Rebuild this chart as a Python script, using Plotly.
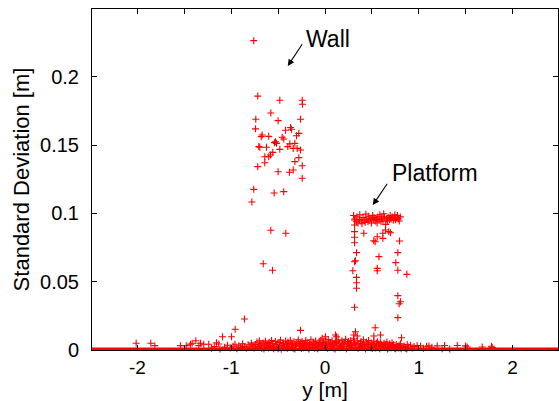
import plotly.graph_objects as go

# ---- data ----
wall_x = [-0.76, -0.717, -0.482, -0.243, -0.24, -0.578, -0.738, -0.5, -0.261, -0.741,
          -0.421, -0.368, -0.357, -0.279, -0.304, -0.67, -0.68, -0.6, -0.457, -0.44,
          -0.528, -0.539, -0.517, -0.322, -0.375, -0.706, -0.695, -0.624, -0.397, -0.339,
          -0.297, -0.261, -0.482, -0.557, -0.581, -0.6, -0.642, -0.279, -0.322, -0.642,
          -0.717, -0.243, -0.339, -0.5, -0.379, -0.243, -0.76, -0.542, -0.44, -0.78,
          -0.578, -0.418, -0.659, -0.56, -0.859, -0.958, -0.261]
wall_y = [0.2266, 0.186, 0.183, 0.183, 0.180, 0.1736, 0.169, 0.168, 0.169, 0.162,
          0.161, 0.163, 0.1617, 0.1587, 0.157, 0.1575, 0.1563, 0.1565, 0.1558, 0.1546,
          0.1526, 0.1519, 0.1514, 0.1514, 0.151, 0.149, 0.1485, 0.1485, 0.149, 0.1477,
          0.1477, 0.1465, 0.147, 0.1448, 0.1429, 0.1416, 0.1416, 0.1409, 0.138, 0.1372,
          0.1343, 0.135, 0.1319, 0.1306, 0.1302, 0.1258, 0.1177, 0.115, 0.116, 0.1084,
          0.0877, 0.0855, 0.0632, 0.0584, 0.0227, 0.0152, 0.0144]

platform_x = [0.305, 0.318, 0.334, 0.341, 0.352, 0.367, 0.371, 0.386, 0.394, 0.405,
              0.419, 0.428, 0.436, 0.447, 0.458, 0.466, 0.472, 0.489, 0.495, 0.508,
              0.516, 0.524, 0.537, 0.549, 0.556, 0.563, 0.578, 0.585, 0.597, 0.604,
              0.618, 0.626, 0.633, 0.647, 0.655, 0.668, 0.674, 0.689, 0.695, 0.706,
              0.717, 0.728, 0.736, 0.745, 0.753, 0.767, 0.774, 0.781, 0.792, 0.803,
              0.315, 0.315, 0.315, 0.315, 0.315, 0.414, 0.52, 0.535, 0.557, 0.617,
              0.617, 0.645, 0.68, 0.699, 0.795, 0.336, 0.777, 0.315, 0.325, 0.575,
              0.755, 0.557, 0.557, 0.297, 0.777, 0.873, 0.336, 0.336, 0.336, 0.777,
              0.805, 0.791, 0.315, 0.777, 0.535]
platform_y = [0.0985, 0.0960, 0.0940, 0.0975, 0.0930, 0.0955, 0.0990, 0.0945, 0.0925, 0.0970,
              0.0950, 0.0935, 0.0995, 0.0960, 0.0940, 0.0980, 0.0950, 0.0965, 0.0930, 0.0985,
              0.0955, 0.0970, 0.0945, 0.0960, 0.0930, 0.0975, 0.0955, 0.0990, 0.0940, 0.0965,
              0.0950, 0.0998, 0.0975, 0.0920, 0.0960, 0.0945, 0.0970, 0.0955, 0.0985, 0.0960,
              0.0975, 0.0950, 0.0965, 0.0990, 0.0955, 0.0970, 0.0985, 0.0960, 0.0945, 0.0975,
              0.0952, 0.0916, 0.0867, 0.0826, 0.0786, 0.0855, 0.080, 0.0793, 0.083, 0.0855,
              0.0818, 0.0879, 0.0867, 0.0859, 0.0799, 0.0713, 0.0713, 0.0647, 0.0654, 0.0684,
              0.064, 0.0598, 0.058, 0.058, 0.0584, 0.0554, 0.0532, 0.0493, 0.0452, 0.0398,
              0.0354, 0.0339, 0.0313, 0.0237, 0.0163]

floor_x = [-2.014, -1.858, -1.815, -1.541, -1.48, -1.435, -1.378, -1.417, -1.328, -1.293,
           -1.24, -1.346, -1.157, -1.133, -1.093, -0.997, 0.592, 0.325, 0.308, 0.344,
           0.112, 0.123, 0.005, -0.03, 0.521, 0.816, 0.805, 0.877, 0.912, 0.983,
           1.019, 1.083, 1.108, 1.197, 1.275, 1.411, 1.499, 1.517, 1.677, 1.776, 1.783,
           -1.21, -1.18, -1.12, -1.07, -1.04, -1.01, -0.98, -0.96, -0.94, -0.92,
           -0.90, -0.88, -0.86, -0.84, -0.82, -0.80, -0.785, -0.77, -0.755, -0.74,
           -0.725, -0.71, -0.70, -0.69, -0.675, -0.66, -0.645, -0.635, -0.62, -0.61,
           -0.595, -0.58, -0.57, -0.555, -0.54, -0.53, -0.515, -0.50, -0.49, -0.475,
           -0.46, -0.45, -0.435, -0.42, -0.41, -0.395, -0.38, -0.37, -0.355, -0.34,
           -0.33, -0.315, -0.30, -0.285, -0.27, -0.26, -0.245, -0.23, -0.22, -0.205,
           -0.19, -0.18, -0.165, -0.15, -0.14, -0.125, -0.11, -0.10, -0.085, -0.07,
           -0.06, -0.045, -0.03, -0.02, -0.005, 0.01, 0.02, 0.035, 0.05, 0.06,
           0.075, 0.09, 0.10, 0.115, 0.13, 0.14, 0.155, 0.17, 0.18, 0.195,
           0.21, 0.22, 0.235, 0.25, 0.26, 0.275, 0.29, 0.305, 0.315, 0.33,
           0.345, 0.36, 0.37, 0.385, 0.40, 0.41, 0.425, 0.44, 0.455, 0.465,
           0.48, 0.495, 0.51, 0.52, 0.535, 0.55, 0.56, 0.575, 0.59, 0.60,
           0.615, 0.63, 0.645, 0.66, 0.675, 0.69, 0.70, 0.715, 0.73, 0.745,
           0.76, 0.775, 0.79, 0.82, 0.845, 0.86, 0.89, 0.93, 0.95, 1.05,
           1.14, 1.25, 1.33]
floor_y = [0.0049, 0.0049, 0.0032, 0.0032, 0.0032, 0.0042, 0.0068, 0.0049, 0.0049, 0.0042,
           0.0042, 0.0032, 0.0053, 0.0044, 0.0097, 0.0097, 0.011, 0.0134, 0.011, 0.0103,
           0.011, 0.0097, 0.0097, 0.0086, 0.0103, 0.009, 0.0045, 0.004, 0.0035, 0.0033,
           0.003, 0.0028, 0.003, 0.003, 0.0033, 0.0033, 0.003, 0.0022, 0.0022, 0.0028, 0.0018,
           0.0012, 0.0025, 0.0008, 0.0021, 0.0035, 0.0015, 0.0028, 0.0042, 0.0010, 0.0031,
           0.0019, 0.0045, 0.0026, 0.0012, 0.0038, 0.0022, 0.0050, 0.0030, 0.0015, 0.0041,
           0.0058, 0.0025, 0.0068, 0.0036, 0.0012, 0.0052, 0.0029, 0.0065, 0.0043, 0.0018,
           0.0056, 0.0033, 0.0070, 0.0047, 0.0021, 0.0062, 0.0038, 0.0009, 0.0054, 0.0072,
           0.0031, 0.0049, 0.0016, 0.0066, 0.0040, 0.0058, 0.0024, 0.0071, 0.0045, 0.0013,
           0.0060, 0.0035, 0.0052, 0.0074, 0.0027, 0.0048, 0.0063, 0.0017, 0.0039, 0.0069,
           0.0054, 0.0022, 0.0044, 0.0075, 0.0031, 0.0058, 0.0012, 0.0066, 0.0041, 0.0025,
           0.0056, 0.0072, 0.0035, 0.0050, 0.0019, 0.0064, 0.0043, 0.0076, 0.0028, 0.0053,
           0.0068, 0.0015, 0.0046, 0.0061, 0.0033, 0.0074, 0.0050, 0.0022, 0.0067, 0.0039,
           0.0057, 0.0078, 0.0026, 0.0062, 0.0045, 0.0070, 0.0034, 0.0082, 0.0055, 0.0030,
           0.0068, 0.0047, 0.0018, 0.0063, 0.0040, 0.0075, 0.0027, 0.0058, 0.0044, 0.0069,
           0.0021, 0.0052, 0.0036, 0.0066, 0.0014, 0.0049, 0.0060, 0.0031, 0.0056, 0.0042,
           0.0023, 0.0050, 0.0037, 0.0058, 0.0016, 0.0045, 0.0029, 0.0053, 0.0038, 0.0012,
           0.0041, 0.0026, 0.0034, 0.0019, 0.0028, 0.0012, 0.0022, 0.0015, 0.0026, 0.0012,
           0.0020, 0.0010, 0.0008]

# further low-deviation samples in the dense strip near the floor
floor2_x = [-0.705, -0.682, -0.651, -0.627, -0.603, -0.588, -0.562, -0.547, -0.521, -0.506,
            -0.482, -0.467, -0.443, -0.428, -0.402, -0.387, -0.362, -0.348, -0.322, -0.307,
            -0.278, -0.252, -0.238, -0.213, -0.197, -0.172, -0.158, -0.133, -0.117, -0.092,
            -0.077, -0.052, -0.037, -0.012, 0.004, 0.027, 0.043, 0.068, 0.082, 0.107,
            0.122, 0.148, 0.163, 0.187, 0.202, 0.228, 0.243, 0.268, 0.283, 0.309,
            0.323, 0.352, 0.378, 0.392, 0.417, 0.432, 0.462, 0.487, 0.503, 0.528,
            0.543, 0.568, 0.583, 0.608, 0.622, 0.652, 0.668, 0.683, 0.708, 0.722,
            0.752, 0.768, 0.783, 0.812, 0.838, 0.872]
floor2_y = [0.0020, 0.0045, 0.0008, 0.0030, 0.0014, 0.0048, 0.0026, 0.0010, 0.0040, 0.0022,
            0.0034, 0.0006, 0.0044, 0.0027, 0.0012, 0.0047, 0.0020, 0.0038, 0.0008, 0.0029,
            0.0043, 0.0011, 0.0033, 0.0050, 0.0024, 0.0008, 0.0040, 0.0019, 0.0046, 0.0031,
            0.0009, 0.0042, 0.0023, 0.0055, 0.0034, 0.0012, 0.0046, 0.0025, 0.0039, 0.0008,
            0.0052, 0.0030, 0.0016, 0.0044, 0.0026, 0.0010, 0.0048, 0.0032, 0.0018, 0.0052,
            0.0038, 0.0012, 0.0046, 0.0024, 0.0035, 0.0008, 0.0041, 0.0028, 0.0011, 0.0038,
            0.0024, 0.0044, 0.0009, 0.0032, 0.0018, 0.0039, 0.0007, 0.0027, 0.0017, 0.0033,
            0.0010, 0.0022, 0.0014, 0.0009, 0.0018, 0.0008]

# samples whose standard deviation is zero cover the whole y range
zero_x = [-2.5, 2.5]
zero_y = [0.0, 0.0]

x_tick_vals = [-2, -1.5, -1, -0.5, 0, 0.5, 1, 1.5, 2]
x_tick_text = ["-2", "", "-1", "", "0", "", "1", "", "2"]
y_tick_vals = [0, 0.05, 0.1, 0.15, 0.2]
y_tick_text = ["0", "0.05", "0.1", "0.15", "0.2"]

FONT = "Liberation Sans, Arial, sans-serif"
RED = "#ff0000"

fig = go.Figure()
fig.add_trace(go.Scatter(x=zero_x, y=zero_y, mode="lines",
                         line=dict(color=RED, width=5), hoverinfo="skip"))
marker = dict(symbol="cross-thin", size=5, color=RED, line=dict(color=RED, width=1.1))
for xs, ys in [(floor_x, floor_y), (floor2_x, floor2_y), (platform_x, platform_y),
               (wall_x, wall_y)]:
    fig.add_trace(go.Scatter(x=xs, y=ys, mode="markers", marker=marker, cliponaxis=False))

axis_common = dict(showline=True, linecolor="black", linewidth=1, mirror="allticks",
                   ticks="inside", ticklen=5, tickcolor="black", tickwidth=1,
                   showgrid=False, zeroline=False, automargin=False)

fig.update_xaxes(range=[-2.485, 2.485], tickmode="array", tickvals=x_tick_vals,
                 ticktext=x_tick_text, ticklabelstandoff=0,
                 tickfont=dict(family=FONT, size=19, color="black"),
                 title=dict(text="y [m]", font=dict(family=FONT, size=21, color="black"),
                            standoff=10),
                 **axis_common)
fig.update_yaxes(range=[0, 0.2498], tickmode="array", tickvals=y_tick_vals,
                 ticktext=y_tick_text, ticklabelstandoff=8,
                 tickfont=dict(family=FONT, size=20, color="black"),
                 title=dict(text="Standard Deviation [m]",
                            font=dict(family=FONT, size=22, color="black"), standoff=4),
                 **axis_common)

# arrows
fig.add_annotation(x=-0.397, y=0.208, ax=-0.233, ay=0.2251, axref="x", ayref="y",
                   xref="x", yref="y", text="", showarrow=True, arrowhead=2,
                   arrowsize=1.2, arrowwidth=1.1, arrowcolor="black")
fig.add_annotation(x=0.51, y=0.1062, ax=0.674, ay=0.1229, axref="x", ayref="y",
                   xref="x", yref="y", text="", showarrow=True, arrowhead=2,
                   arrowsize=1.2, arrowwidth=1.1, arrowcolor="black")
fig.add_annotation(x=-0.225, y=0.2275, xref="x", yref="y", text="Wall", showarrow=False,
                   xanchor="left", yanchor="middle",
                   font=dict(family=FONT, size=23, color="black"))
fig.add_annotation(x=0.69, y=0.1295, xref="x", yref="y", text="Platform", showarrow=False,
                   xanchor="left", yanchor="middle",
                   font=dict(family=FONT, size=23, color="black"))

fig.update_layout(width=559, height=401, showlegend=False,
                  margin=dict(l=92, r=1, t=9, b=51),
                  paper_bgcolor="white", plot_bgcolor="white")

fig.write_html("out.html")
